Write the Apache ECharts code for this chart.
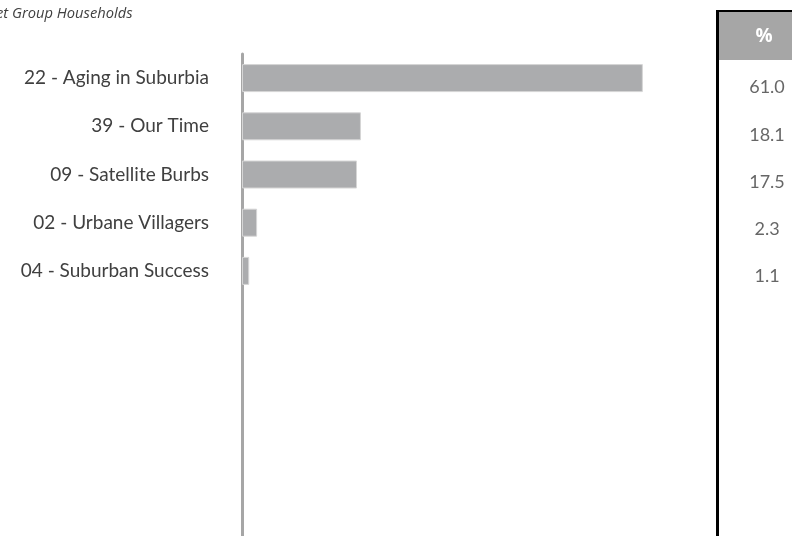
<!DOCTYPE html>
<html>
<head>
<meta charset="utf-8">
<script src="https://cdn.jsdelivr.net/npm/echarts@6/dist/echarts.min.js"></script>
<style>
html,body{margin:0;padding:0;background:#fff;}
#chart{width:792px;height:536px;}
</style>
</head>
<body>
<div id="chart"></div>
<script>
//分组数据
var categories=["22 - Aging in Suburbia","39 - Our Time","09 - Satellite Burbs","02 - Urbane Villagers","04 - Suburban Success"];
var percents=[61.0,18.1,17.5,2.3,1.1];
var tableHeader="%";
var titleText="Target Group Households";

var chart=echarts.init(document.getElementById("chart"));
var option={
    animation:false,
    graphic:[
        {
            type:"text",
            left:-33,
            top:6,
            style:{
                text:titleText,
                fill:"#404040",
                font:"italic 14.7px 'Open Sans'"
            }
        },
        {
            type:"rect",
            shape:{x:719,y:12,width:80,height:48},
            style:{fill:"#a6a6a6"}
        },
        {
            type:"text",
            x:764,
            y:37,
            style:{
                text:tableHeader,
                fill:"#fff",
                font:"bold 19px 'Open Sans'",
                textAlign:"center",
                textVerticalAlign:"middle"
            }
        },
        {
            type:"line",
            shape:{x1:717.5,y1:10,x2:717.5,y2:536},
            style:{stroke:"#000",lineWidth:3}
        },
        {
            type:"line",
            shape:{x1:716,y1:11,x2:800,y2:11},
            style:{stroke:"#000",lineWidth:2}
        }
    ],
    grid:[
        {left:242,top:54,width:460,height:482},
        {left:719,right:0,top:64,height:482}
    ],
    xAxis:[
        {gridIndex:0,type:"value",min:0,max:70,show:false},
        {gridIndex:1,type:"value",min:0,max:0.76,show:false}
    ],
    yAxis:[
        {
            gridIndex:0,
            type:"category",
            data:categories,
            inverse:true,
            max:9,
            axisLine:{lineStyle:{color:"#a6a6a6",width:3}},
            axisTick:{show:false},
            axisLabel:{
                color:"#404040",
                fontSize:19,
                fontFamily:"Lato",
                margin:33
            }
        },
        {
            gridIndex:1,
            type:"category",
            data:categories,
            inverse:true,
            max:9,
            show:false
        }
    ],
    series:[
        {
            type:"bar",
            xAxisIndex:0,
            yAxisIndex:0,
            barWidth:28,
            data:percents,
            itemStyle:{
                color:"#abacae",
                borderColor:"#d6d6d6",
                borderWidth:1
            }
        },
        {
            type:"scatter",
            xAxisIndex:1,
            yAxisIndex:1,
            symbolSize:0,
            data:percents.map(function(v,i){return [0.5,i];}),
            label:{
                show:true,
                position:"inside",
                color:"#404040",
                fontSize:18,
                fontFamily:"Lato",
                formatter:function(p){return percents[p.dataIndex].toFixed(1);}
            }
        }
    ]
};
chart.setOption(option);
</script>
</body>
</html>
